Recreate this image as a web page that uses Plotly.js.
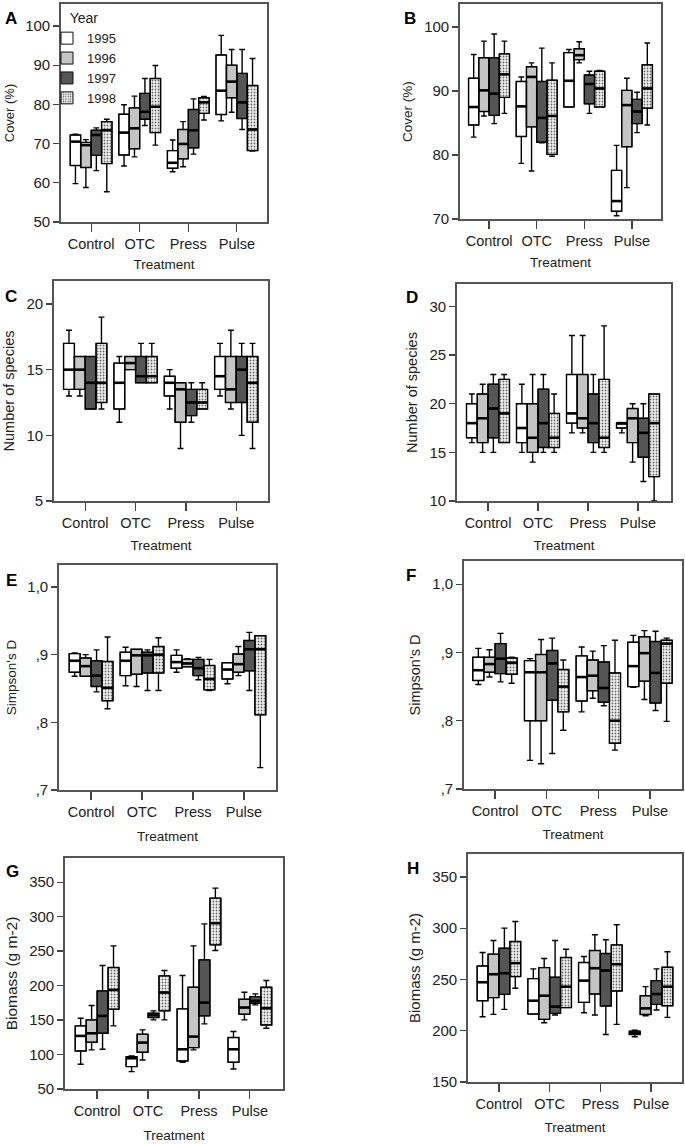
<!DOCTYPE html>
<html><head><meta charset="utf-8">
<script src="https://cdn.plot.ly/plotly-3.0.1.min.js"></script>
<style>html,body{margin:0;padding:0;background:#fff}</style>
</head><body><div id="chart" style="width:685px;height:1144px"></div>
<script>
const treatments = ['Control', 'OTC', 'Press', 'Pulse'];
const years = ['1995', '1996', '1997', '1998'];
// each panel: per year -> per treatment -> [lower whisker, Q1, median, Q3, upper whisker]
const panelA = [
  [[59.8,64.4,70.5,72.2,72.4],[64.3,67.1,72.8,77.5,79.9],[62.8,63.7,65.1,68.2,70.9],[75.8,77.4,83.5,92.6,97.6]],
  [[58.8,63.9,69.6,70.3,71.0],[66.6,68.7,73.9,79.1,82.1],[64.1,66.1,69.9,73.6,75.6],[78.0,81.7,85.8,90.0,94.0]],
  [[63.1,67.0,72.2,73.4,74.0],[74.6,76.2,78.1,82.8,86.6],[67.3,68.9,73.4,78.7,81.4],[73.6,76.4,80.5,87.9,94.0]],
  [[57.7,64.9,73.4,75.6,76.2],[69.6,72.8,79.4,86.6,89.9],[76.0,77.7,80.5,81.7,82.0],[68.1,68.2,73.6,84.8,91.7]]
];
const panelB = [
  [[82.8,84.7,87.5,92.0,95.7],[78.7,82.9,87.6,91.5,92.2],[87.5,87.5,91.6,96.0,96.5],[70.5,71.2,72.8,77.6,81.5]],
  [[86.1,86.8,90.1,95.2,97.8],[77.5,84.4,92.2,93.8,94.4],[94.4,94.9,95.6,96.6,97.7],[74.9,81.3,87.8,90.1,92.0]],
  [[84.9,86.2,89.6,95.2,98.9],[81.9,82.0,85.8,91.5,96.7],[86.5,88.0,91.1,92.5,93.1],[83.5,84.9,86.8,88.7,89.8]],
  [[86.5,89.0,92.6,95.8,97.8],[79.8,80.1,86.1,91.7,94.4],[87.5,87.5,90.4,93.1,93.2],[84.7,87.3,90.4,94.1,97.5]]
];
const panelC = [
  [[13,13.5,15,17,18],[11,12,14,15.5,16],[12,13,14,14.5,15],[13,13.5,14.5,16,17]],
  [[13,13.5,15,16,16],[15,15,15.5,16,16],[9,11,13.5,14,14],[12,12.5,13.5,16,18]],
  [[12,12,14,16,16],[14,14,14.5,16,17],[11,11.5,12.5,13.5,14],[10,12.5,15,16,17]],
  [[12,12.5,14,17,19],[14,14,14.5,16,17],[12,12,12.5,13.5,14],[9,11,14,16,17]]
];
const panelD = [
  [[16,16.5,18,20,21],[15,16,17.5,20,22],[17,18,19,23,27],[17,17.5,18,18,18]],
  [[15,16,18.5,21,22],[14,15,16.5,20,23],[17,17.5,18.5,23,27],[14,16,18.5,19.5,20]],
  [[15,16.5,19.5,22,23],[15,15.5,18,21.5,23],[15,16,18,21,23],[12,14.5,17,18.5,20]],
  [[16,16,19,22.5,23],[15,15.5,16.5,19,21],[15,15.5,16.5,22.5,28],[10,12.5,18,21,21]]
];
const panelE = [
  [[.868,.874,.891,.9015,.9025],[.854,.869,.891,.9035,.911],[.874,.880,.889,.899,.907],[.857,.864,.878,.888,.888]],
  [[.868,.868,.883,.895,.900],[.853,.871,.899,.908,.908],[.882,.882,.887,.893,.894],[.869,.874,.886,.901,.912]],
  [[.845,.853,.869,.891,.907],[.847,.873,.899,.9035,.907],[.863,.869,.880,.893,.896],[.847,.876,.908,.921,.933]],
  [[.820,.832,.851,.890,.926],[.847,.873,.900,.912,.925],[.847,.848,.864,.884,.893],[.733,.811,.908,.928,.928]]
];
const panelF = [
  [[.853,.859,.874,.893,.906],[.742,.800,.871,.888,.891],[.813,.829,.864,.895,.908],[.849,.850,.880,.915,.925]],
  [[.864,.871,.883,.893,.904],[.737,.800,.871,.897,.919],[.833,.844,.866,.889,.902],[.831,.858,.899,.923,.932]],
  [[.857,.869,.891,.913,.928],[.752,.830,.884,.903,.921],[.822,.827,.848,.886,.910],[.815,.826,.870,.916,.931]],
  [[.855,.868,.885,.892,.893],[.786,.813,.850,.875,.889],[.757,.767,.800,.870,.918],[.799,.855,.913,.918,.921]]
];
const panelG = [
  [[85.9,105.2,127,141.5,152.6],[75.2,82.5,94.6,97,98],[88.8,90.7,107.6,166.2,214.5],[79.1,88.8,107.6,124.6,133.3]],
  [[106.7,117.8,130.8,150.2,171],[92.1,103.3,117.3,129.4,135.7],[106.7,110,126,197.6,257.6],[150.2,158.4,168.1,180.2,190.3]],
  [[107.6,130.8,156,192.3,229],[150.2,153.6,157.5,159.9,163.3],[144.4,156,175.3,237.3,289.5],[172,174.4,177.8,184,188]],
  [[141.5,165.7,193.7,226.1,257.6],[150.2,163.3,189.9,214.1,221.8],[250.8,259,290.5,326.8,341.3],[138.1,142.9,167.1,197.6,207.3]]
];
const panelH = [
  [[213.7,229.3,247.3,263.2,276.3],[216.3,216.3,229.3,250.8,260.3],[217.6,227.7,248.9,266.5,272.4],[194.1,196.4,198,199.6,200.6]],
  [[216,232.3,255.1,274.7,288],[207.8,211.1,234.2,261.6,270.4],[215.3,235.8,261,278.2,293.6],[214.6,215.9,221.8,234.2,243]],
  [[220.8,235.5,256.1,280.5,300.1],[215.3,216.9,223.5,252.2,288],[196.4,224.1,258.7,275.3,288.7],[220.2,225.7,235.8,248.9,260.3]],
  [[241.4,252.8,265.9,287,306.6],[222.5,222.5,243,271.4,279.5],[206.2,238.8,264.9,283.8,303.4],[213,224.4,243,261.9,277]]
];
const panelLabels = ['A','B','C','D','E','F','G','H'];
const yTitles = ['Cover (%)','Cover (%)','Number of species','Number of species',"Simpson's D","Simpson's D",'Biomass (g m-2)','Biomass (g m-2)'];
const yTickVals = [[50,60,70,80,90,100],[70,80,90,100],[5,10,15,20],[10,15,20,25,30],[0.7,0.8,0.9,1.0],[0.7,0.8,0.9,1.0],[50,100,150,200,250,300,350],[150,200,250,300,350]];
const yTickText = [null,null,null,null,[',7',',8',',9','1,0'],[',7',',8',',9','1,0'],null,null];
const xTitle = 'Treatment';
const legendTitle = 'Year';

const panels = [panelA,panelB,panelC,panelD,panelE,panelF,panelG,panelH];
// layout (pixel frames: left, right, top, bottom) and axis ranges
const W = 685, H = 1144;
const frames = [[61,267,4,222],[460,661,4,219],[54,268,281,501],[457,671,284,501],[59,276,565,790],[464,682,561,789],[65,283,858,1089],[468,682,854,1082]];
const yRanges = [[50,105.6],[70,103.6],[5,21.75],[10,32.3],[0.7,1.0325],[0.7,1.034],[50,385],[150,372.4]];
const xRanges = [[-0.62,3.62],[-0.61,3.61],[-0.62,3.63],[-0.62,3.66],[-0.63,3.63],[-0.6,3.62],[-0.63,3.65],[-0.61,3.61]];
const yTitleSize = [13,13.5,14.5,14.5,13.5,14.5,15.5,15];
const xTitleStandoff = [8,9,10,10,12,11,12,11];
const labelPos = [[11,19],[410,19],[11,297],[412,298],[11,580],[411,575],[12,872],[413,868]];
const fills = ['#ffffff','#c4c4c4','#555555','#f2f2f2'];
const SLOT = 0.215, BW = 0.215;
const FONT = 'Liberation Sans, Arial, sans-serif';

const traces = [];
const layout = {
  width: W, height: H, margin: {l:0,r:0,t:0,b:0},
  paper_bgcolor: '#fff', plot_bgcolor: '#fff',
  boxmode: 'overlay', barmode: 'overlay', showlegend: true,
  font: {family: FONT, color: '#222'},
  legend: {x: 47/W, y: 1 - 5/H, xanchor: 'left', yanchor: 'top', bgcolor: 'rgba(0,0,0,0)',
    title: {text: legendTitle, side: 'top center', font: {size: 14, family: FONT, color: '#222'}},
    font: {size: 13, family: FONT, color: '#222'},
    traceorder: 'normal', itemwidth: 30, tracegroupgap: 0},
  annotations: []
};

panels.forEach((panel, p) => {
  const n = p + 1;
  const xa = 'x' + (n === 1 ? '' : n), ya = 'y' + (n === 1 ? '' : n);
  panel.forEach((rows, j) => {
    const xs = treatments.map((_, i) => i + (j - 1.5) * SLOT);
    const col = k => rows.map(r => r[k]);
    const marker = {color: fills[j], line: {color: '#111', width: 1}};
    if (j === 3) marker.pattern = {shape: '.', fgcolor: '#6a6a6a', bgcolor: '#f2f2f2', size: 3, solidity: 0.3};
    // box body fill
    traces.push({type: 'bar', x: xs, base: col(1), y: rows.map(r => r[3] - r[1]), width: BW,
      xaxis: xa, yaxis: ya, name: years[j], legendrank: j + 1, showlegend: p === 0, hoverinfo: 'skip',
      marker: marker});
    // outline + whiskers with caps
    traces.push({type: 'box', x: xs, lowerfence: col(0), q1: col(1), median: col(2), q3: col(3), upperfence: col(4),
      width: BW, whiskerwidth: 0.55, fillcolor: 'rgba(0,0,0,0)', line: {color: '#000', width: 1.4},
      xaxis: xa, yaxis: ya, name: years[j], showlegend: false, boxpoints: false, hoverinfo: 'skip'});
    // thick median bar
    traces.push({type: 'scatter', mode: 'lines', xaxis: xa, yaxis: ya, showlegend: false, hoverinfo: 'skip',
      x: xs.flatMap(c => [c - BW/2, c + BW/2, null]),
      y: col(2).flatMap(m => [m, m, null]),
      line: {color: '#000', width: 2.6}});
  });
  const f = frames[p];
  layout['xaxis' + (n === 1 ? '' : n)] = {
    domain: [f[0]/W, f[1]/W], anchor: ya, range: xRanges[p],
    tickvals: [0,1,2,3], ticktext: treatments, showline: true, mirror: true, linecolor: '#555', linewidth: 1.8,
    ticks: 'outside', ticklen: 8, tickcolor: '#444', tickwidth: 1.2, showgrid: false, zeroline: false, automargin: false,
    tickfont: {size: 14.5, family: FONT, color: '#222'},
    title: {text: xTitle, font: {size: 13.5, family: FONT, color: '#222'}, standoff: xTitleStandoff[p]}, fixedrange: true
  };
  const ya_ = {
    domain: [1 - f[3]/H, 1 - f[2]/H], anchor: xa, range: yRanges[p],
    tickvals: yTickVals[p], showline: true, mirror: true, linecolor: '#555', linewidth: 1.8,
    ticks: 'outside', ticklen: 6, tickcolor: '#444', tickwidth: 1.2, showgrid: false, zeroline: false, automargin: false,
    tickfont: {size: 15, family: FONT, color: '#222'},
    title: {text: yTitles[p], font: {size: yTitleSize[p], family: FONT, color: '#222'}, standoff: 8}, fixedrange: true
  };
  if (yTickText[p]) ya_.ticktext = yTickText[p];
  layout['yaxis' + (n === 1 ? '' : n)] = ya_;
  layout.annotations.push({xref: 'paper', yref: 'paper', x: labelPos[p][0]/W, y: 1 - labelPos[p][1]/H,
    text: '<b>' + panelLabels[p] + '</b>', showarrow: false, xanchor: 'center', yanchor: 'middle',
    font: {size: 17, family: FONT, color: '#000'}});
});

Plotly.newPlot('chart', traces, layout, {staticPlot: true, displayModeBar: false});
</script></body></html>
